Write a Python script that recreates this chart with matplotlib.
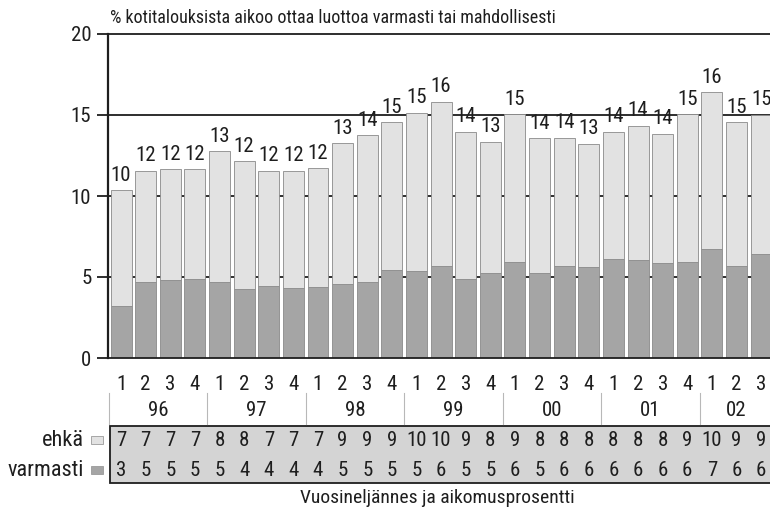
import numpy as np
import matplotlib
matplotlib.use("Agg")
import matplotlib.pyplot as plt
from matplotlib import font_manager
from matplotlib.patches import Rectangle
from matplotlib.transforms import blended_transform_factory

installed = {f.name for f in font_manager.fontManager.ttflist}
narrow = [f for f in ["Liberation Sans Narrow", "Roboto Condensed", "Open Sans Condensed"] if f in installed]
plt.rcParams["font.family"] = narrow + ["DejaVu Sans"]
plt.rcParams["font.stretch"] = "condensed"

years = ["96", "97", "98", "99", "00", "01", "02"]
quarters = ["1", "2", "3", "4"] * 6 + ["1", "2", "3"]

# % of households planning to take a loan: certainly / maybe
varmasti = [3.2, 4.7, 4.8, 4.9, 4.7, 4.25, 4.45, 4.35, 4.4, 4.55, 4.7, 5.45,
            5.35, 5.65, 4.9, 5.25, 5.95, 5.25, 5.65, 5.6, 6.1, 6.05, 5.85, 5.95,
            6.75, 5.65, 6.45]
ehka = [7.15, 6.85, 6.85, 6.75, 8.05, 7.9, 7.1, 7.2, 7.3, 8.7, 9.05, 9.1,
        9.8, 10.15, 9.05, 8.1, 9.1, 8.3, 7.95, 7.6, 7.85, 8.3, 8.0, 9.1,
        9.65, 8.9, 8.55]

varmasti = np.array(varmasti)
ehka = np.array(ehka)
total = varmasti + ehka


def r(v):
    return int(np.floor(v + 0.5 + 1e-9))


W, H = 770, 521
light = "#e2e2e2"
dark = "#a5a5a5"
edge = "#8a8a8a"
ink = "#1e1e1e"
fs = 15

fig = plt.figure(figsize=(W / 100, H / 100), dpi=100)
ax = fig.add_axes([108 / W, 1 - 358 / H, 662 / W, 324 / H])

x = np.arange(len(varmasti))
ax.bar(x, varmasti, width=0.85, color=dark, edgecolor=edge, lw=0.6, zorder=2)
ax.bar(x, ehka, bottom=varmasti, width=0.85, color=light, edgecolor=edge, lw=0.6, zorder=2)

for yv in [5, 10, 15, 20]:
    ax.axhline(yv, color=ink, lw=1.3, zorder=0.5, clip_on=False)

for xi, t in zip(x, total):
    ax.text(xi, t + 0.35, str(r(t)), ha="center", va="bottom", fontsize=fs, color=ink)

ax.set_xlim(-0.53, 26.36)
ax.set_ylim(0, 20)
ax.set_yticks([0, 5, 10, 15, 20])
ax.tick_params(axis="y", length=8, width=1.3, color=ink, labelsize=fs, pad=4, labelcolor=ink)
ax.set_xticks([])
for s in ["top", "right"]:
    ax.spines[s].set_visible(False)
ax.spines["left"].set_linewidth(1.6)
ax.spines["left"].set_color(ink)
ax.spines["bottom"].set_linewidth(1.3)
ax.spines["bottom"].set_color(ink)

fig.text(110 / W, 1 - 18 / H, "% kotitalouksista aikoo ottaa luottoa varmasti tai mahdollisesti",
         ha="left", va="center", fontsize=13, color=ink)

# table under the axis, x in data units, y in figure pixels
tr = blended_transform_factory(ax.transData, fig.transFigure)


def fy(py):
    return 1 - py / H


for xi, q in zip(x, quarters):
    ax.text(xi, fy(384), q, transform=tr, ha="center", va="center", fontsize=fs, color=ink, clip_on=False)

for i, yr in enumerate(years):
    n = min(4, len(x) - 4 * i)
    ax.text(4 * i + (n - 1) / 2, fy(411), yr, transform=tr, ha="center", va="center",
            fontsize=fs, color=ink, clip_on=False)
    ax.plot([4 * i - 0.5] * 2, [fy(393), fy(424)], transform=tr, color="#b8b8b8",
            lw=0.8, clip_on=False)

fig.patches.append(Rectangle((110 / W, fy(483)), 700 / W, 57 / H, transform=fig.transFigure,
                             facecolor="#d4d4d4", edgecolor=ink, lw=1.3, zorder=-1))

for xi, e, v in zip(x, ehka, varmasti):
    ax.text(xi, fy(440), str(r(e)), transform=tr, ha="center", va="center", fontsize=fs,
            color=ink, clip_on=False)
    ax.text(xi, fy(470), str(r(v)), transform=tr, ha="center", va="center", fontsize=fs,
            color=ink, clip_on=False)

fig.text(84 / W, fy(440), "ehkä", ha="right", va="center", fontsize=16, color=ink)
fig.text(84 / W, fy(470), "varmasti", ha="right", va="center", fontsize=16, color=ink)
fig.patches.append(Rectangle((91 / W, fy(444)), 12 / W, 8 / H, transform=fig.transFigure,
                             facecolor=light, edgecolor="#9a9a9a", lw=0.6))
fig.patches.append(Rectangle((91 / W, fy(474)), 12 / W, 8 / H, transform=fig.transFigure,
                             facecolor=dark, edgecolor="#9a9a9a", lw=0.6))

fig.text(437 / W, fy(498), "Vuosineljännes ja aikomusprosentti", ha="center", va="center",
         fontsize=14, color=ink)

fig.savefig("out.png", dpi=100, facecolor="white")
